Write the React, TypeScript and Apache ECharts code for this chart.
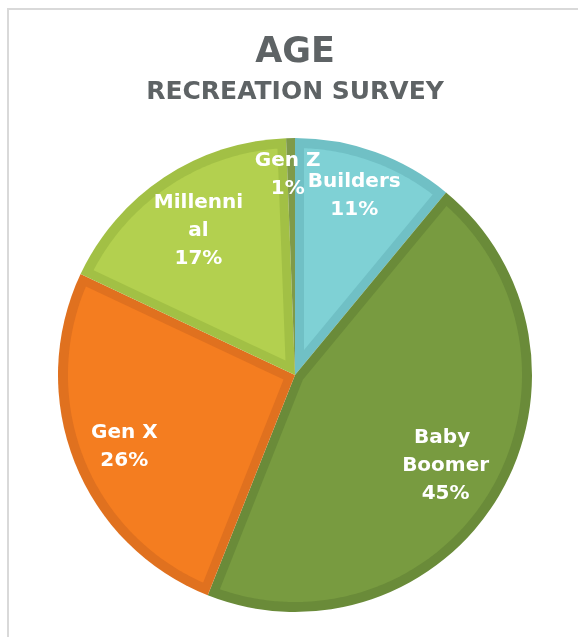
import React, { useEffect, useRef } from "react";
import * as echarts from "echarts";

const CATEGORIES = ["Builders", "Baby Boomer", "Gen X", "Millennial", "Gen Z"];
const VALUES = [11, 45, 26, 17.4, 0.6];
const LIGHT_COLORS = ["#7fd1d5", "#789b40", "#f47d20", "#b3d04f", "#80a04c"];
const DARK_COLORS = ["#70c0c5", "#6a8b39", "#e0711f", "#a2c045", "#7f9a4a"];
const TITLE = "AGE";
const SUBTITLE = "RECREATION SURVEY";

const CX = 295;
const CY = 375;
const R = 237;
const RIM = 10;
const SIDE = 9;
const FONT = "DejaVu Sans";
const TITLE_COLOR = "#5e6365";

export default function App() {
  const ref = useRef<HTMLDivElement>(null);

  useEffect(() => {
    if (!ref.current) return;
    const chart = echarts.init(ref.current, undefined, { renderer: "svg" });

    const total = VALUES.reduce((a, b) => a + b, 0);
    let acc = 0;
    const insetData = VALUES.map((v) => {
      const s = acc / total;
      acc += v;
      return [s, acc / total];
    });

    const pieData = CATEGORIES.map((name, i) => ({
      name,
      value: VALUES[i],
      itemStyle: { color: DARK_COLORS[i] },
    }));

    const labelData = CATEGORIES.map((name, i) => ({
      name,
      value: VALUES[i],
      itemStyle: { color: "rgba(0,0,0,0)" },
      label: name === "Millennial" ? { width: 95 } : {},
    }));

    const nudges: Record<number, { dx?: number; dy?: number }> = {
      0: { dx: 0, dy: -16 },
      2: { dx: -8, dy: 6 },
      4: { dx: -4, dy: -27 },
    };

    chart.setOption({
      animation: false,
      graphic: [
        {
          type: "rect",
          shape: { x: 8, y: 9, width: 700, height: 800 },
          style: { fill: "none", stroke: "#d9d9d9", lineWidth: 2 },
          silent: true,
          z: 0,
        },
        {
          type: "text",
          x: 295,
          y: 50,
          style: {
            text: TITLE,
            fill: TITLE_COLOR,
            fontSize: 35,
            fontWeight: "bold",
            fontFamily: FONT,
            align: "center",
            verticalAlign: "middle",
            textAlign: "center",
            textVerticalAlign: "middle",
          },
        },
        {
          type: "text",
          x: 295,
          y: 90,
          style: {
            text: SUBTITLE,
            fill: TITLE_COLOR,
            fontSize: 25,
            fontWeight: "bold",
            fontFamily: FONT,
            align: "center",
            verticalAlign: "middle",
            textAlign: "center",
            textVerticalAlign: "middle",
          },
        },
      ],
      series: [
        {
          type: "pie",
          center: [CX, CY],
          radius: [0, R],
          startAngle: 90,
          clockwise: true,
          silent: true,
          z: 2,
          label: { show: false },
          labelLine: { show: false },
          itemStyle: { borderWidth: 0 },
          emphasis: { disabled: true },
          data: pieData,
        },
        {
          type: "custom",
          coordinateSystem: "none",
          silent: true,
          z: 3,
          data: insetData,
          renderItem: (params: any, api: any) => {
            const a0 = api.value(0) * 2 * Math.PI;
            const a1 = api.value(1) * 2 * Math.PI;
            const half = (a1 - a0) / 2;
            const ro = R - RIM;
            const cornerR = SIDE / Math.sin(half);
            if (!(cornerR < ro - 2)) return { type: "group", children: [] };
            const am = (a0 + a1) / 2;
            const pts: number[][] = [[CX + cornerR * Math.sin(am), CY - cornerR * Math.cos(am)]];
            const s = a0 + Math.asin(SIDE / ro);
            const e = a1 - Math.asin(SIDE / ro);
            const n = Math.max(2, Math.ceil((e - s) / 0.01));
            for (let i = 0; i <= n; i++) {
              const a = s + ((e - s) * i) / n;
              pts.push([CX + ro * Math.sin(a), CY - ro * Math.cos(a)]);
            }
            return {
              type: "polygon",
              shape: { points: pts },
              style: { fill: LIGHT_COLORS[params.dataIndex], stroke: "none" },
            };
          },
        },
        {
          type: "pie",
          center: [CX, CY],
          radius: [107, R],
          startAngle: 90,
          clockwise: true,
          silent: true,
          z: 5,
          percentPrecision: 0,
          itemStyle: { borderWidth: 0, color: "rgba(0,0,0,0)" },
          emphasis: { disabled: true },
          labelLine: { show: false },
          label: {
            show: true,
            position: "inside",
            formatter: "{b}\n{d}%",
            color: "#ffffff",
            fontFamily: FONT,
            fontWeight: "bold",
            fontSize: 20,
            lineHeight: 28,
            width: 110,
            overflow: "break",
            align: "center",
            textBorderWidth: 0,
          },
          labelLayout: (params: any) => {
            const n = nudges[params.dataIndex];
            return n ? { dx: n.dx || 0, dy: n.dy || 0 } : {};
          },
          data: labelData,
        },
      ],
    });

    return () => chart.dispose();
  }, []);

  return (
    <div
      ref={ref}
      style={{ position: "fixed", left: 0, top: 0, width: 578, height: 637 }}
    />
  );
}
